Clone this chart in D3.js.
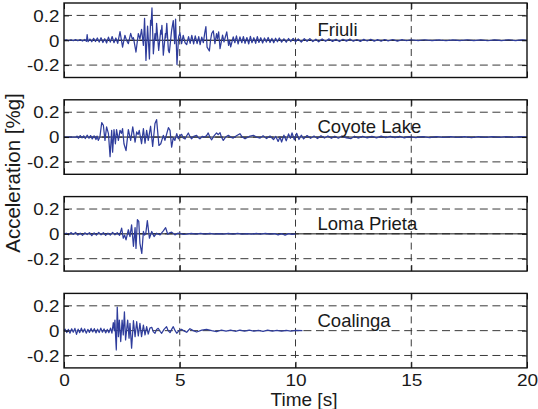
<!DOCTYPE html>
<html>
<head>
<meta charset="utf-8">
<script src="https://cdn.jsdelivr.net/npm/d3@7"></script>
<style>
  body { margin: 0; background: #fff; }
  svg { display: block; }
  text { font-family: "Liberation Sans", Arial, Helvetica, sans-serif; fill: #1a1a1a; }
</style>
</head>
<body>
<svg id="chart" width="538" height="409"></svg>
<script>
// Ground acceleration records [time s, acceleration g]
const quakeNames = ["Friuli", "Coyote Lake", "Loma Prieta", "Coalinga"];

const friuli = [[0,0],[0.1,0.003],[0.2,-0.004],[0.3,0.004],[0.4,-0.003],[0.5,0.005],[0.6,-0.004],[0.7,0.005],[0.8,-0.006],[0.9,0.006],[0.97,-0.008],[1.0,0.045],[1.04,-0.012],[1.12,0.01],[1.2,-0.012],[1.28,0.015],[1.36,-0.01],[1.44,0.018],[1.52,-0.015],[1.6,0.02],[1.68,-0.018],[1.76,0.012],[1.84,-0.022],[1.92,0.025],[2.0,-0.015],[2.08,0.03],[2.16,-0.02],[2.24,0.018],[2.32,-0.025],[2.42,0.07],[2.53,-0.055],[2.63,0.04],[2.7,0.0],[2.78,-0.027],[2.88,0.055],[2.95,0.01],[3.0,0.02],[3.11,-0.095],[3.21,0.054],[3.28,0.01],[3.35,0.087],[3.43,-0.041],[3.48,0.177],[3.54,-0.163],[3.61,0.114],[3.69,-0.15],[3.74,0.16],[3.76,0.12],[3.8,0.26],[3.86,-0.109],[3.93,0.054],[3.97,0.0],[4.0,0.136],[4.09,-0.082],[4.18,0.082],[4.2,0.05],[4.23,0.12],[4.29,-0.12],[4.38,0.054],[4.4,0.02],[4.44,0.136],[4.51,-0.082],[4.55,-0.1],[4.65,0.082],[4.72,0.158],[4.78,-0.027],[4.82,0.17],[4.88,-0.196],[4.95,0.027],[5.01,0.06],[5.08,-0.027],[5.15,0.04],[5.23,-0.02],[5.3,-0.035],[5.38,0.03],[5.45,-0.025],[5.52,0.04],[5.6,-0.03],[5.67,0.035],[5.75,-0.028],[5.82,0.03],[5.88,-0.035],[5.95,0.025],[6.02,-0.02],[6.08,0.06],[6.13,0.109],[6.18,-0.055],[6.28,-0.087],[6.33,0.0],[6.38,0.054],[6.45,0.076],[6.52,-0.027],[6.59,0.054],[6.63,0.01],[6.68,0.068],[6.74,-0.068],[6.85,0.041],[6.91,-0.014],[7.03,0.068],[7.11,-0.041],[7.15,0.0],[7.2,-0.054],[7.31,0.027],[7.38,-0.02],[7.45,0.035],[7.52,-0.03],[7.6,0.027],[7.68,-0.02],[7.75,0.03],[7.82,-0.025],[7.9,0.022],[7.98,-0.03],[8.05,0.032],[8.12,-0.02],[8.2,0.02],[8.28,-0.025],[8.35,0.03],[8.42,-0.018],[8.5,0.02],[8.58,-0.022],[8.66,0.018],[8.74,-0.015],[8.82,0.022],[8.9,-0.018],[8.98,0.015],[9.06,-0.02],[9.14,0.016],[9.22,-0.012],[9.3,0.018],[9.4,-0.015],[9.5,0.012],[9.6,-0.016],[9.7,0.014],[9.8,-0.01],[9.9,0.015],[10.0,-0.012],[10.12,0.01],[10.25,-0.014],[10.38,0.012],[10.5,-0.008],[10.62,0.013],[10.75,-0.01],[10.88,0.008],[11.0,-0.012],[11.15,0.01],[11.3,-0.008],[11.45,0.011],[11.6,-0.009],[11.75,0.007],[11.9,-0.01],[12.05,0.008],[12.2,-0.007],[12.35,0.009],[12.5,-0.008],[12.65,0.006],[12.8,-0.009],[12.95,0.007],[13.1,-0.006],[13.25,0.008],[13.4,-0.007],[13.55,0.005],[13.7,-0.008],[13.85,0.006],[14.0,-0.005],[14.2,0.006],[14.4,-0.007],[14.6,0.005],[14.8,-0.004],[15.0,0.004],[15.3,-0.003],[15.6,0.004],[15.9,-0.003],[16.2,0.003],[16.5,-0.004],[16.8,0.003],[17.1,-0.003],[17.4,0.004],[17.7,-0.003],[18.0,0.003],[18.3,-0.004],[18.6,0.003],[18.9,-0.003],[19.2,0.004],[19.5,-0.003],[19.8,0.003],[20,0]];

const coyoteLake = [[0,0],[0.52,0],[0.56,0.008],[0.62,-0.01],[0.7,0.012],[0.78,-0.006],[0.85,0.01],[0.92,-0.012],[1.0,0.015],[1.08,-0.01],[1.15,0.012],[1.22,-0.015],[1.3,0.01],[1.38,-0.02],[1.43,0.008],[1.48,-0.027],[1.55,0.0],[1.63,0.117],[1.7,0.095],[1.77,-0.027],[1.84,0.082],[1.92,0.027],[1.99,-0.158],[2.06,0.054],[2.1,-0.122],[2.16,0.06],[2.22,-0.054],[2.27,0.06],[2.35,-0.027],[2.42,0.054],[2.48,0.03],[2.53,0.068],[2.59,-0.054],[2.68,-0.109],[2.78,0.06],[2.88,-0.027],[2.97,0.082],[3.07,-0.041],[3.14,0.041],[3.2,0.02],[3.25,0.054],[3.35,-0.054],[3.43,0.068],[3.5,-0.049],[3.57,0.054],[3.64,-0.027],[3.74,0.087],[3.83,-0.076],[3.93,0.109],[4.0,0.14],[4.1,-0.068],[4.18,-0.054],[4.29,0.014],[4.36,-0.027],[4.51,0.076],[4.58,0.054],[4.65,-0.082],[4.72,-0.005],[4.79,-0.027],[4.87,0.027],[4.94,-0.014],[5.01,0.01],[5.08,0.022],[5.15,-0.008],[5.23,-0.016],[5.3,0.01],[5.37,0.033],[5.44,0.005],[5.51,-0.014],[5.6,0.006],[5.73,0.014],[5.8,-0.004],[5.87,-0.014],[5.98,0.006],[6.09,0.0],[6.16,0.012],[6.23,0.033],[6.3,0.0],[6.38,-0.022],[6.48,0.01],[6.59,0.033],[6.66,0.02],[6.74,0.035],[6.8,0.0],[6.88,-0.027],[6.98,0.0],[7.1,0.014],[7.2,0.0],[7.31,-0.008],[7.45,0.01],[7.6,0.027],[7.7,0.0],[7.82,-0.014],[8.0,0.005],[8.18,0.014],[8.32,0.0],[8.47,-0.008],[8.6,0.01],[8.75,-0.012],[8.9,0.008],[9.05,-0.02],[9.15,0.005],[9.25,-0.035],[9.33,0.0],[9.4,-0.04],[9.5,0.015],[9.6,-0.03],[9.7,0.025],[9.78,-0.01],[9.85,0.033],[9.95,-0.022],[10.05,0.03],[10.15,-0.02],[10.25,0.015],[10.35,-0.015],[10.5,0.012],[10.65,-0.01],[10.8,0.008],[10.95,-0.012],[11.1,0.01],[11.25,-0.008],[11.4,0.009],[11.55,-0.01],[11.7,0.007],[11.85,-0.009],[12.0,0.008],[12.2,-0.007],[12.4,-0.012],[12.55,0.007],[12.7,-0.008],[12.9,0.006],[13.1,-0.007],[13.3,0.006],[13.5,-0.006],[13.7,0.007],[13.9,-0.005],[14.1,0.006],[14.3,-0.005],[14.5,0.005],[14.7,-0.006],[14.9,0.004],[15.2,-0.004],[15.5,0.003],[15.8,-0.004],[16.1,0.003],[16.4,-0.003],[16.7,0.004],[17.0,-0.003],[17.3,0.003],[17.6,-0.004],[17.9,0.003],[18.2,-0.003],[18.5,0.004],[18.8,-0.003],[19.1,0.003],[19.4,-0.003],[19.7,0.003],[20,0]];

const lomaPrieta = [[0,0],[0.1,0.005],[0.2,-0.008],[0.3,0.01],[0.4,-0.005],[0.5,0.012],[0.6,-0.01],[0.7,0.006],[0.8,-0.012],[0.9,0.008],[1.0,-0.006],[1.1,0.01],[1.2,-0.015],[1.3,0.008],[1.4,-0.01],[1.5,0.012],[1.6,-0.008],[1.7,0.01],[1.8,-0.012],[1.9,0.006],[2.0,-0.01],[2.1,0.012],[2.2,-0.008],[2.3,0.01],[2.4,-0.012],[2.49,0.046],[2.56,-0.035],[2.62,-0.01],[2.68,-0.049],[2.78,0.033],[2.85,-0.022],[2.92,0.073],[3.0,-0.1],[3.07,0.05],[3.11,-0.117],[3.17,0.114],[3.23,0.1],[3.28,-0.076],[3.36,-0.158],[3.43,0.019],[3.48,-0.01],[3.53,0.0],[3.6,0.106],[3.69,-0.035],[3.79,0.019],[3.89,-0.022],[4.0,0.005],[4.15,-0.008],[4.29,0.024],[4.39,0.05],[4.48,-0.003],[4.56,0.008],[4.65,0.014],[4.79,-0.008],[4.9,0.004],[5.01,0.005],[5.15,-0.004],[5.3,-0.003],[5.5,0.003],[5.7,-0.003],[5.9,0.004],[6.1,-0.002],[6.3,0.003],[6.5,-0.003],[6.7,0.002],[6.9,-0.003],[7.1,0.003],[7.3,-0.002],[7.5,0.003],[7.7,-0.003],[7.9,0.002],[8.1,-0.003],[8.3,0.003],[8.5,-0.002],[8.7,0.003],[8.9,-0.003],[9.1,0.002],[9.25,-0.008],[9.4,0.002],[9.55,-0.01],[9.7,0.002],[9.85,-0.004],[10.0,0]];

const coalinga = [[0,0],[0.05,0.012],[0.12,-0.015],[0.19,0.01],[0.26,-0.02],[0.33,0.015],[0.4,-0.012],[0.47,0.018],[0.54,-0.03],[0.61,0.012],[0.68,-0.016],[0.75,0.02],[0.82,-0.012],[0.89,0.015],[0.96,-0.02],[1.03,0.01],[1.1,-0.014],[1.17,0.018],[1.24,-0.01],[1.31,0.016],[1.38,-0.018],[1.45,0.012],[1.52,-0.015],[1.59,0.02],[1.66,-0.012],[1.73,0.014],[1.8,-0.018],[1.87,0.01],[1.94,-0.016],[2.01,0.02],[2.07,-0.02],[2.13,0.064],[2.17,0.0],[2.2,0.085],[2.23,-0.048],[2.26,-0.155],[2.3,0.19],[2.35,-0.048],[2.39,0.085],[2.45,-0.088],[2.51,0.085],[2.56,-0.035],[2.61,0.152],[2.66,-0.075],[2.75,0.085],[2.81,-0.061],[2.85,0.059],[2.92,-0.141],[3.0,0.08],[3.07,-0.048],[3.14,0.072],[3.21,-0.043],[3.28,0.059],[3.35,-0.048],[3.43,0.045],[3.5,-0.035],[3.57,0.032],[3.64,-0.027],[3.71,0.02],[3.79,0.027],[3.86,-0.01],[3.93,-0.021],[4.0,0.01],[4.07,0.019],[4.15,-0.005],[4.22,-0.021],[4.32,0.01],[4.43,0.032],[4.5,0.0],[4.58,-0.016],[4.65,0.01],[4.72,0.032],[4.8,0.0],[4.87,-0.021],[4.97,0.0],[5.08,0.011],[5.2,-0.004],[5.3,-0.013],[5.44,0.016],[5.58,0.0],[5.73,-0.011],[5.95,0.004],[6.16,0.011],[6.38,0.0],[6.59,-0.008],[6.8,0.005],[7.0,-0.004],[7.2,0.005],[7.4,-0.005],[7.6,0.004],[7.8,-0.003],[8.0,0.005],[8.2,-0.004],[8.4,0.003],[8.6,-0.005],[8.8,0.004],[9.0,-0.003],[9.2,0.003],[9.4,-0.004],[9.6,0.003],[9.8,-0.003],[10.0,0.002],[10.3,0]];

const records = [friuli, coyoteLake, lomaPrieta, coalinga];
const solidZeroLine = [true, true, true, false];

const xTicks = [0, 5, 10, 15, 20];
const xTickLabels = ["0", "5", "10", "15", "20"];
const yTicks = [-0.2, 0, 0.2];
const yTickLabels = ["-0.2", "0", "0.2"];

const xLabel = "Time [s]";
const yLabel = "Acceleration [%g]";

// ---- layout ----
const svg = d3.select("#chart");
const left = 64, right = 527;
const panelH = 74.5, panelStep = 96.8, firstTop = 3;
const traceColor = "#2f3d9c";
const gridColor = "#3a3a3a";
const tickStretch = 1.17;

const x = d3.scaleLinear().domain([0, 20]).range([left, right]);
const line = d3.line();

records.forEach((rec, i) => {
  const top = firstTop + i * panelStep;
  const y = d3.scaleLinear().domain([-0.3, 0.3]).range([top + panelH, top]);
  const g = svg.append("g").attr("class", "panel");

  // dashed grid
  g.append("g").selectAll("line").data(yTicks).join("line")
    .attr("x1", left).attr("x2", right)
    .attr("y1", d => y(d)).attr("y2", d => y(d))
    .attr("stroke", gridColor).attr("stroke-width", 1)
    .attr("stroke-dasharray", "8,4.6");
  g.append("g").selectAll("line").data(xTicks.slice(1, -1)).join("line")
    .attr("x1", d => x(d)).attr("x2", d => x(d))
    .attr("y1", top).attr("y2", top + panelH)
    .attr("stroke", gridColor).attr("stroke-width", 1)
    .attr("stroke-dasharray", "7,4.5");

  if (solidZeroLine[i]) {
    g.append("line")
      .attr("x1", left).attr("x2", right)
      .attr("y1", y(0)).attr("y2", y(0))
      .attr("stroke", "#111").attr("stroke-width", 1);
  }

  // acceleration trace
  line.x(d => x(d[0])).y(d => y(d[1]));
  g.append("path").datum(rec)
    .attr("d", line)
    .attr("fill", "none")
    .attr("stroke", traceColor)
    .attr("stroke-width", 1.25)
    .attr("stroke-linejoin", "round");

  // inward ticks on all four sides
  const axL = g.append("g").attr("transform", `translate(${left},0)`)
    .call(d3.axisLeft(y).tickValues(yTicks).tickSize(-5).tickPadding(4.7)
      .tickFormat((d, k) => yTickLabels[k]));
  const axR = g.append("g").attr("transform", `translate(${right},0)`)
    .call(d3.axisRight(y).tickValues(yTicks).tickSize(-5).tickFormat(""));
  const axT = g.append("g").attr("transform", `translate(0,${top})`)
    .call(d3.axisTop(x).tickValues(xTicks).tickSize(-6).tickFormat(""));
  const axB = g.append("g").attr("transform", `translate(0,${top + panelH})`)
    .call(d3.axisBottom(x).tickValues(xTicks).tickSize(-6).tickPadding(6.5)
      .tickFormat((d, k) => i === records.length - 1 ? xTickLabels[k] : ""));

  [axL, axR, axT, axB].forEach(ax => {
    ax.select(".domain").remove();
    ax.selectAll(".tick line").attr("stroke", "#111").attr("stroke-width", 1);
  });
  axL.selectAll(".tick text")
    .attr("font-size", 16).attr("fill", "#1a1a1a")
    .attr("x", -4.7 / tickStretch)
    .attr("dy", "0.36em")
    .attr("transform", `scale(${tickStretch},1)`);
  axB.selectAll(".tick text")
    .attr("font-size", 16.3).attr("fill", "#1a1a1a")
    .attr("transform", `scale(${tickStretch},1)`);

  // frame
  g.append("rect")
    .attr("x", left).attr("y", top)
    .attr("width", right - left).attr("height", panelH)
    .attr("fill", "none").attr("stroke", "#111").attr("stroke-width", 1.4);

  // record name
  g.append("text")
    .attr("x", x(10.95)).attr("y", y(0) - 4)
    .attr("font-size", 18.5)
    .text(quakeNames[i]);
});

// axis titles
svg.append("text")
  .attr("x", 304).attr("y", 406)
  .attr("text-anchor", "middle")
  .attr("font-size", 19)
  .text(xLabel);

svg.append("text")
  .attr("transform", "translate(19.5,173) rotate(-90)")
  .attr("text-anchor", "middle")
  .attr("font-size", 20.5)
  .text(yLabel);
</script>
</body>
</html>
